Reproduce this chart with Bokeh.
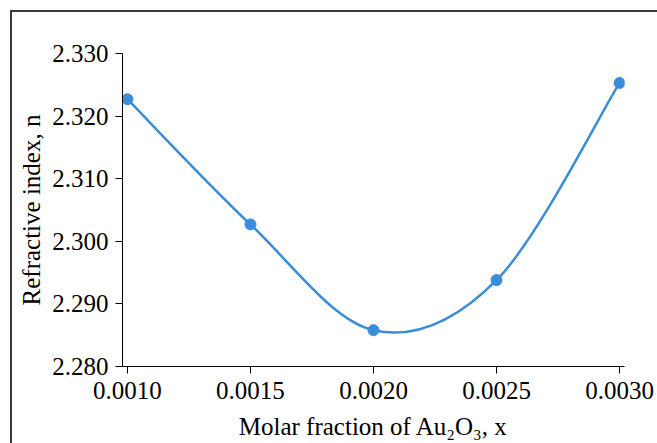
import numpy as np
from bokeh.plotting import figure
from bokeh.models import ColumnDataSource, FixedTicker, PrintfTickFormatter, Range1d
from bokeh.embed import file_html
from bokeh.resources import INLINE

# ---- data ----
x_vals = [0.0010, 0.0015, 0.0020, 0.0025, 0.0030]
n_vals = [2.3227, 2.3027, 2.2858, 2.2938, 2.3253]
x_ticks = [0.0010, 0.0015, 0.0020, 0.0025, 0.0030]
y_ticks = [2.280, 2.290, 2.300, 2.310, 2.320, 2.330]
x_title = "Molar fraction of Au\u2082O\u2083, x"
y_title = "Refractive index, n"

BLUE = "#3a8dd8"
FONT = "Liberation Serif"

# Excel-style smoothed line: Catmull-Rom segments drawn as cubic Bezier curves
xs = np.array(x_vals)
ys = np.array(n_vals)
N = len(xs)
qx = np.concatenate([[xs[0]], xs, [xs[-1]]])
qy = np.concatenate([[ys[0]], ys, [ys[-1]]])
seg = ColumnDataSource(dict(
    x0=xs[:-1], y0=ys[:-1], x1=xs[1:], y1=ys[1:],
    cx0=qx[1:N] + (qx[2:N + 1] - qx[0:N - 1]) / 6.0,
    cy0=qy[1:N] + (qy[2:N + 1] - qy[0:N - 1]) / 6.0,
    cx1=qx[2:N + 1] - (qx[3:N + 2] - qx[1:N]) / 6.0,
    cy1=qy[2:N + 1] - (qy[3:N + 2] - qy[1:N]) / 6.0,
))
pts = ColumnDataSource(dict(x=x_vals, y=n_vals))

pad = 0.00002
p = figure(width=657, height=443,
           x_range=Range1d(x_ticks[0] - pad, x_ticks[-1] + pad),
           y_range=Range1d(y_ticks[0], y_ticks[-1]),
           output_backend="svg", toolbar_location=None,
           min_border_left=122, min_border_right=33,
           min_border_top=53, min_border_bottom=77)
# outer chart border drawn as the element's background (no layout effect)
line = "linear-gradient(#3a3a3a, #3a3a3a)"
p.styles = {
    "background-color": "white",
    "background-image": f"{line}, {line}",
    "background-position": "10px 10px, 10px 10px",
    "background-size": "2px 100%, 100% 2px",
    "background-repeat": "no-repeat, no-repeat",
}

p.background_fill_color = "white"
p.border_fill_color = None
p.outline_line_color = None
p.xgrid.visible = False
p.ygrid.visible = False

p.bezier(x0="x0", y0="y0", x1="x1", y1="y1", cx0="cx0", cy0="cy0",
         cx1="cx1", cy1="cy1", source=seg, line_color=BLUE, line_width=2.5)
p.scatter("x", "y", source=pts, size=11, fill_color=BLUE, line_color=BLUE)

for ax in (p.xaxis[0], p.yaxis[0]):
    ax.axis_line_color = "black"
    ax.axis_line_width = 1
    ax.major_tick_line_color = "black"
    ax.major_tick_in = 0
    ax.major_tick_out = 7
    ax.minor_tick_line_color = None
    ax.major_label_text_font = FONT
    ax.major_label_text_font_size = "25px"
    ax.major_label_text_color = "black"
    ax.axis_label_text_font = FONT
    ax.axis_label_text_font_size = "25px"
    ax.axis_label_text_font_style = "normal"
    ax.axis_label_text_color = "black"

p.xaxis.ticker = FixedTicker(ticks=x_ticks)
p.xaxis.formatter = PrintfTickFormatter(format="%.4f")
p.xaxis.major_label_standoff = 8
p.xaxis.axis_label = x_title
p.xaxis.axis_label_standoff = 11

p.yaxis.ticker = FixedTicker(ticks=y_ticks)
p.yaxis.formatter = PrintfTickFormatter(format="%.3f")
p.yaxis.major_label_standoff = 7
p.yaxis.axis_label = y_title
p.yaxis.axis_label_standoff = 4

open("out.html", "w").write(file_html(p, INLINE))
